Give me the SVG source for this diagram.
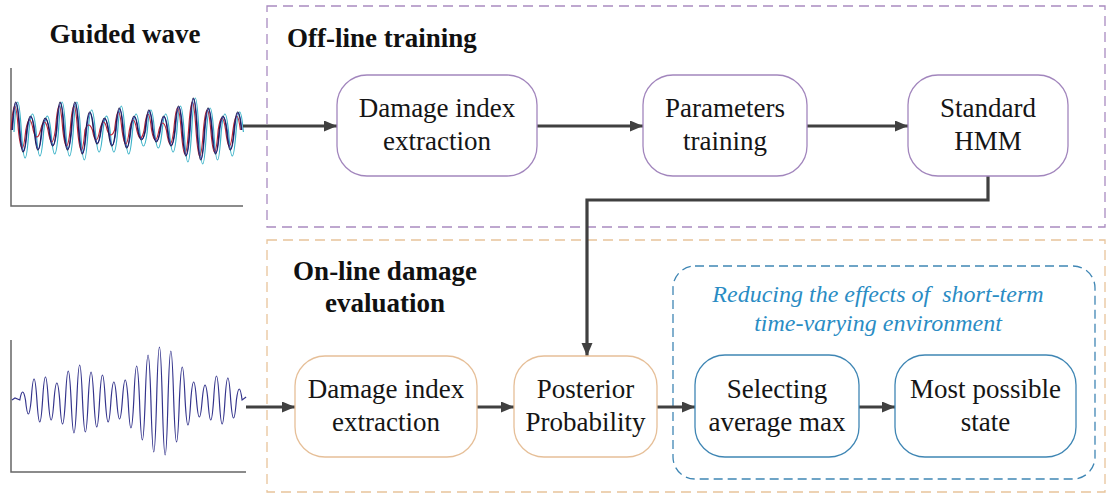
<svg xmlns="http://www.w3.org/2000/svg" width="1108" height="497" viewBox="0 0 1108 497">
<style>
.t{font-family:"Liberation Serif","Times New Roman",Tinos,"Noto Serif","Nimbus Roman","FreeSerif","DejaVu Serif",Georgia,serif;font-size:27px;fill:#151515;text-anchor:middle}
.h{font-family:"Liberation Serif","Times New Roman",Tinos,"Noto Serif","Nimbus Roman","FreeSerif","DejaVu Serif",Georgia,serif;font-size:27px;font-weight:bold;fill:#111}
.i{font-family:"Liberation Serif","Times New Roman",Tinos,"Noto Serif","Nimbus Roman","FreeSerif","DejaVu Serif",Georgia,serif;font-size:24px;font-style:italic;fill:#2a8cc4;text-anchor:middle}
.np{fill:#fff;stroke:#a286bd;stroke-width:1.3}
.no{fill:#fff;stroke:#e6bf98;stroke-width:1.3}
.nb{fill:#fff;stroke:#3f86b4;stroke-width:1.3}
.c{fill:none;stroke:#404040;stroke-width:3.2}
.ax{fill:none;stroke:#666;stroke-width:1.5}
.w{fill:none;stroke-width:1.2}
</style>
<defs>
<marker id="ah" markerUnits="userSpaceOnUse" markerWidth="14" markerHeight="12" refX="13" refY="5.5" orient="auto">
<path d="M0,0 L13,5.5 L0,11 z" fill="#404040"/>
</marker>
</defs>
<rect width="1108" height="497" fill="#fff"/>

<g id="frames">
<rect x="267" y="6" width="838" height="221" fill="none" stroke="#a98bc0" stroke-width="1.3" stroke-dasharray="10,6"/>
<rect x="267" y="240" width="838" height="252" fill="none" stroke="#e8c49a" stroke-width="1.3" stroke-dasharray="10,6"/>
<rect x="673" y="266" width="422" height="213" rx="22" fill="none" stroke="#3f86b4" stroke-width="1.3" stroke-dasharray="9,5"/>
</g>

<g id="titles">
<text class="h" x="125" y="43" text-anchor="middle">Guided wave</text>
<text class="h" x="287" y="47">Off-line training</text>
<text class="h" x="385" y="280" text-anchor="middle">On-line damage</text>
<text class="h" x="385" y="312" text-anchor="middle">evaluation</text>
<text class="i" x="878" y="302" xml:space="preserve">Reducing the effects of  short-term</text>
<text class="i" x="878" y="331">time-varying environment</text>
</g>

<g id="wave-top">
<path class="ax" d="M11,68 L11,206 L243,206"/>
<path class="w" stroke="#3bb3c8" d="M14,132 q3.7,-60 7.4,0 q3.7,52 7.4,0 q3.7,-36 7.4,0 q3.7,48 7.4,0 q3.7,-32 7.4,0 q3.7,44 7.4,0 q3.7,-60 7.4,0 q3.7,48 7.4,0 q3.7,-60 7.4,0 q3.7,56 7.4,0 q3.7,-44 7.4,0 q3.7,40 7.4,0 q3.7,-32 7.4,0 q3.7,40 7.4,0 q3.7,-52 7.4,0 q3.7,44 7.4,0 q3.7,-36 7.4,0 q3.7,28 7.4,0 q3.7,-44 7.4,0 q3.7,32 7.4,0 q3.7,-36 7.4,0 q3.7,40 7.4,0 q3.7,-52 7.4,0 q3.7,60 7.4,0 q3.7,-68 7.4,0 q3.7,64 7.4,0 q3.7,-48 7.4,0 q3.7,56 7.4,0 q3.7,-36 7.4,0 q3.7,48 7.4,0 q3.7,-40 7.4,0"/>
<path class="w" stroke="#c0283a" d="M11,130 q3.7,-48 7.4,0 q3.7,36 7.4,0 q3.7,-20 7.4,0 q3.7,14 7.4,0 q3.7,-16 7.4,0 q3.7,24 7.4,0 q3.7,-48 7.4,0 q3.7,32 7.4,0 q3.7,-48 7.4,0 q3.7,40 7.4,0 q3.7,-10 7.4,0 q3.7,20 7.4,0 q3.7,-16 7.4,0 q3.7,10 7.4,0 q3.7,-36 7.4,0 q3.7,28 7.4,0 q3.7,-20 7.4,0 q3.7,16 7.4,0 q3.7,-32 7.4,0 q3.7,20 7.4,0 q3.7,-14 7.4,0 q3.7,28 7.4,0 q3.7,-44 7.4,0 q3.7,48 7.4,0 q3.7,-56 7.4,0 q3.7,52 7.4,0 q3.7,-40 7.4,0 q3.7,44 7.4,0 q3.7,-24 7.4,0 q3.7,32 7.4,0 q3.7,-28 7.4,0"/>
<path class="w" stroke="#3a3ab0" d="M12.5,130 q3.7,-54 7.4,0 q3.7,42 7.4,0 q3.7,-26 7.4,0 q3.7,38 7.4,0 q3.7,-22 7.4,0 q3.7,30 7.4,0 q3.7,-54 7.4,0 q3.7,38 7.4,0 q3.7,-54 7.4,0 q3.7,46 7.4,0 q3.7,-34 7.4,0 q3.7,26 7.4,0 q3.7,-22 7.4,0 q3.7,30 7.4,0 q3.7,-42 7.4,0 q3.7,34 7.4,0 q3.7,-26 7.4,0 q3.7,18 7.4,0 q3.7,-38 7.4,0 q3.7,22 7.4,0 q3.7,-26 7.4,0 q3.7,30 7.4,0 q3.7,-46 7.4,0 q3.7,50 7.4,0 q3.7,-62 7.4,0 q3.7,58 7.4,0 q3.7,-42 7.4,0 q3.7,46 7.4,0 q3.7,-26 7.4,0 q3.7,38 7.4,0 q3.7,-34 7.4,0"/>
<path class="w" stroke="#1c1c50" d="M12,130 q3.7,-56 7.4,0 q3.7,44 7.4,0 q3.7,-28 7.4,0 q3.7,40 7.4,0 q3.7,-24 7.4,0 q3.7,32 7.4,0 q3.7,-56 7.4,0 q3.7,40 7.4,0 q3.7,-56 7.4,0 q3.7,48 7.4,0 q3.7,-36 7.4,0 q3.7,28 7.4,0 q3.7,-24 7.4,0 q3.7,32 7.4,0 q3.7,-44 7.4,0 q3.7,36 7.4,0 q3.7,-28 7.4,0 q3.7,20 7.4,0 q3.7,-40 7.4,0 q3.7,24 7.4,0 q3.7,-28 7.4,0 q3.7,32 7.4,0 q3.7,-48 7.4,0 q3.7,52 7.4,0 q3.7,-64 7.4,0 q3.7,60 7.4,0 q3.7,-44 7.4,0 q3.7,48 7.4,0 q3.7,-28 7.4,0 q3.7,40 7.4,0 q3.7,-36 7.4,0"/>
</g>

<g id="wave-bottom">
<path class="ax" d="M11,340 L11,472 L246,472"/>
<path class="w" stroke="#34348c" stroke-width="1.4" d="M12,400 L15,398 L19.8,400 q2.85,-16 5.7,0 q2.85,28 5.7,0 q2.85,-42 5.7,0 q2.85,44 5.7,0 q2.85,-46 5.7,0 q2.85,40 5.7,0 q2.85,-34 5.7,0 q2.85,48 5.7,0 q2.85,-58 5.7,0 q2.85,66 5.7,0 q2.85,-70 5.7,0 q2.85,64 5.7,0 q2.85,-56 5.7,0 q2.85,54 5.7,0 q2.85,-50 5.7,0 q2.85,44 5.7,0 q2.85,-36 5.7,0 q2.85,38 5.7,0 q2.85,-40 5.7,0 q2.85,56 5.7,0 q2.85,-68 5.7,0 q2.85,80 5.7,0 q2.85,-90 5.7,0 q2.85,104 5.7,0 q2.85,-106 5.7,0 q2.85,110 5.7,0 q2.85,-98 5.7,0 q2.85,84 5.7,0 q2.85,-66 5.7,0 q2.85,50 5.7,0 q2.85,-36 5.7,0 q2.85,34 5.7,0 q2.85,-30 5.7,0 q2.85,40 5.7,0 q2.85,-48 5.7,0 q2.85,48 5.7,0 q2.85,-44 5.7,0 q2.85,36 5.7,0 q2.85,-22 5.7,0 l4,-3"/>
</g>

<g id="connectors">
<path class="c" d="M243,126 L337,126" marker-end="url(#ah)"/>
<path class="c" d="M537,126 L643,126" marker-end="url(#ah)"/>
<path class="c" d="M807,126 L908,126" marker-end="url(#ah)"/>
<path class="c" d="M988,176 L988,200 L587,200 L587,356" marker-end="url(#ah)"/>
<path class="c" d="M246,407 L295,407" marker-end="url(#ah)"/>
<path class="c" d="M477,407 L514,407" marker-end="url(#ah)"/>
<path class="c" d="M657,407 L695,407" marker-end="url(#ah)"/>
<path class="c" d="M859,407 L895,407" marker-end="url(#ah)"/>
</g>

<g id="node-die-offline">
<rect class="np" x="337" y="75" width="200" height="101" rx="30"/>
<text class="t" x="437" y="117">Damage index</text>
<text class="t" x="437" y="150">extraction</text>
</g>
<g id="node-params">
<rect class="np" x="643" y="75" width="164" height="101" rx="30"/>
<text class="t" x="725" y="117">Parameters</text>
<text class="t" x="725" y="150">training</text>
</g>
<g id="node-hmm">
<rect class="np" x="908" y="75" width="160" height="101" rx="30"/>
<text class="t" x="988" y="117">Standard</text>
<text class="t" x="988" y="150">HMM</text>
</g>
<g id="node-die-online">
<rect class="no" x="295" y="356" width="182" height="101" rx="30"/>
<text class="t" x="386" y="398">Damage index</text>
<text class="t" x="386" y="431">extraction</text>
</g>
<g id="node-posterior">
<rect class="no" x="514" y="356" width="143" height="101" rx="30"/>
<text class="t" x="585.5" y="398">Posterior</text>
<text class="t" x="585.5" y="431">Probability</text>
</g>
<g id="node-selecting">
<rect class="nb" x="695" y="355" width="164" height="102" rx="30"/>
<text class="t" x="777" y="398">Selecting</text>
<text class="t" x="777" y="431">average max</text>
</g>
<g id="node-most">
<rect class="nb" x="895" y="355" width="181" height="102" rx="30"/>
<text class="t" x="985.5" y="398">Most possible</text>
<text class="t" x="985.5" y="431">state</text>
</g>
</svg>
